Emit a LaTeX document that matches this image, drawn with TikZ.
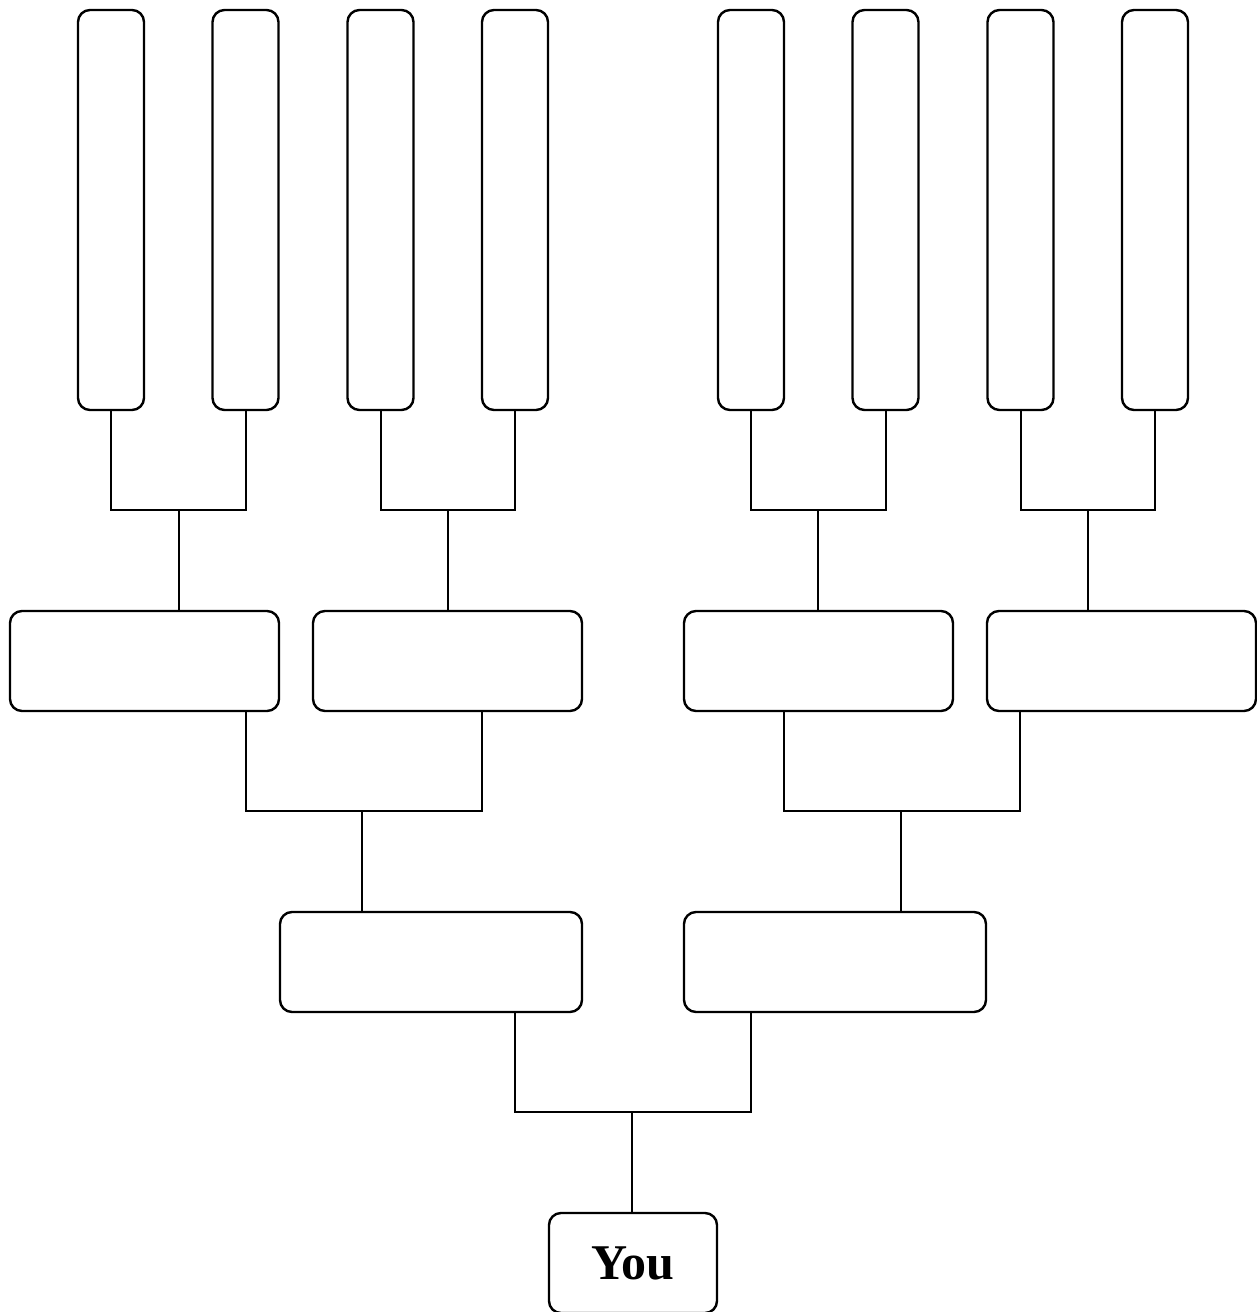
\documentclass[tikz,border=0pt]{standalone}
\usepackage{fontspec}
\setmainfont{Liberation Serif}
\begin{document}
\begin{tikzpicture}[x=1pt,y=-1pt,
  box/.style={draw, line width=2.4pt, rounded corners=12pt, inner sep=0pt, outer sep=0pt},
  tall/.style={box, minimum width=66pt, minimum height=400pt},
  wide/.style={box, minimum width=269pt, minimum height=100pt},
  wider/.style={box, minimum width=302pt, minimum height=100pt},
  link/.style={draw, line width=2pt}]
\useasboundingbox (0,0) rectangle (1257,1312);
% top row
\foreach \n/\x in {t1/111, t2/245.5, t3/380.5, t4/515, t5/751, t6/885.5, t7/1020.5, t8/1155}{
  \node[tall] (\n) at (\x,210) {};
}
% second row
\node[wide] (s1) at (144.5,661) {};
\node[wide] (s2) at (447.5,661) {};
\node[wide] (s3) at (818.5,661) {};
\node[wide] (s4) at (1121.5,661) {};
% third row
\node[wider] (r1) at (431,962) {};
\node[wider] (r2) at (835,962) {};
% you
\node[box, minimum width=168pt, minimum height=100pt,
  font=\fontsize{50}{50}\selectfont\bfseries] (you) at (633,1263) {\raisebox{-3pt}{You}};
% junction points
\coordinate (j1) at (179,510);  \coordinate (j2) at (448,510);
\coordinate (j3) at (818,510);  \coordinate (j4) at (1088,510);
\coordinate (k1) at (362,811);  \coordinate (k2) at (901,811);
\coordinate (m1) at (632,1112);
% links top
\draw[link] (t1.south) |- (j1) -| (t2.south);
\draw[link] (j1) -- (j1 |- s1.north);
\draw[link] (t3.south) |- (j2) -| (t4.south);
\draw[link] (j2) -- (j2 |- s2.north);
\draw[link] (t5.south) |- (j3) -| (t6.south);
\draw[link] (j3) -- (j3 |- s3.north);
\draw[link] (t7.south) |- (j4) -| (t8.south);
\draw[link] (j4) -- (j4 |- s4.north);
% links middle
\draw[link] (s1.south -| 246,0) |- (k1) -| (s2.south -| 482,0);
\draw[link] (k1) -- (k1 |- r1.north);
\draw[link] (s3.south -| 784,0) |- (k2) -| (s4.south -| 1020,0);
\draw[link] (k2) -- (k2 |- r2.north);
% links bottom
\draw[link] (r1.south -| 515,0) |- (m1) -| (r2.south -| 751,0);
\draw[link] (m1) -- (m1 |- you.north);
\end{tikzpicture}
\end{document}
